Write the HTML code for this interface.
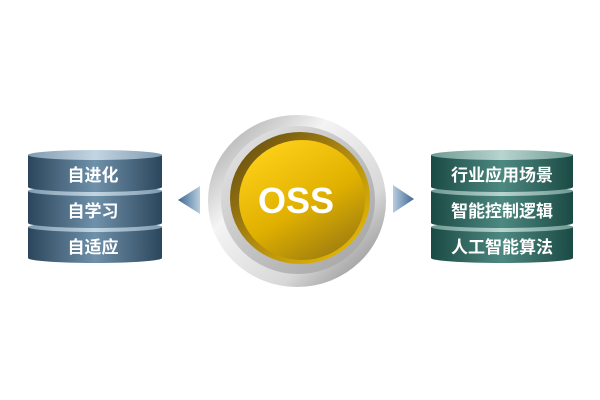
<!DOCTYPE html>
<html><head><meta charset="utf-8"><style>body{margin:0;background:#fff}svg{display:block}</style></head><body>
<svg width="600" height="400" viewBox="0 0 600 400" xmlns="http://www.w3.org/2000/svg" font-family="'Liberation Sans','Noto Sans CJK SC',sans-serif">
<defs>
<linearGradient id="bl" x1="0" x2="1"><stop offset="0" stop-color="#2b465c"/><stop offset="0.5" stop-color="#6f91aa"/><stop offset="1" stop-color="#2b465c"/></linearGradient>
<linearGradient id="tl" x1="0" x2="1"><stop offset="0" stop-color="#7f9bb0"/><stop offset="0.5" stop-color="#c3d5e2"/><stop offset="1" stop-color="#7f9bb0"/></linearGradient>
<linearGradient id="br" x1="0" x2="1"><stop offset="0" stop-color="#1b4a44"/><stop offset="0.5" stop-color="#4d8981"/><stop offset="1" stop-color="#1b4a44"/></linearGradient>
<linearGradient id="tr" x1="0" x2="1"><stop offset="0" stop-color="#6f9a94"/><stop offset="0.5" stop-color="#b8d4cf"/><stop offset="1" stop-color="#6f9a94"/></linearGradient>
<linearGradient id="ring" x1="0" y1="0" x2="1" y2="1"><stop offset="0" stop-color="#9a9a9a"/><stop offset="0.35" stop-color="#f4f4f4"/><stop offset="0.7" stop-color="#d8d8d8"/><stop offset="1" stop-color="#7a7a7a"/></linearGradient>
<linearGradient id="ring2" x1="0" y1="0" x2="1" y2="1"><stop offset="0" stop-color="#e8e8e8"/><stop offset="1" stop-color="#a0a0a0"/></linearGradient>
<linearGradient id="gold" x1="0.2" y1="0" x2="0.8" y2="1"><stop offset="0" stop-color="#ffd21a"/><stop offset="0.55" stop-color="#e0b000"/><stop offset="1" stop-color="#9a7a10"/></linearGradient>
<linearGradient id="goldrim" x1="0" y1="0" x2="1" y2="1"><stop offset="0" stop-color="#5a4410"/><stop offset="0.5" stop-color="#b08a10"/><stop offset="1" stop-color="#f0c400"/></linearGradient>
<linearGradient id="al" x1="0" x2="1"><stop offset="0" stop-color="#3e6890"/><stop offset="1" stop-color="#b8cde0"/></linearGradient>
<linearGradient id="ar" x1="0" x2="1"><stop offset="0" stop-color="#b8cde0"/><stop offset="1" stop-color="#3e6890"/></linearGradient>
</defs>
<g>
<path d="M28 227 v31 a67 5 0 0 0 134 0 v-31 z" fill="url(#bl)"/><ellipse cx="95" cy="227" rx="67" ry="5" fill="url(#tl)"/>
<path d="M28 191 v32 a67 5 0 0 0 134 0 v-32 z" fill="url(#bl)"/><ellipse cx="95" cy="191" rx="67" ry="5" fill="url(#tl)"/>
<path d="M28 155 v32 a67 5 0 0 0 134 0 v-32 z" fill="url(#bl)"/><ellipse cx="95" cy="155" rx="67" ry="5" fill="url(#tl)"/>
<g fill="#fff" font-size="17" font-weight="bold" text-anchor="middle"><text x="93" y="181">自进化</text><text x="93" y="217">自学习</text><text x="93" y="253">自适应</text></g>
</g>
<g>
<path d="M431 227 v31 a71 5 0 0 0 142 0 v-31 z" fill="url(#br)"/><ellipse cx="502" cy="227" rx="71" ry="5" fill="url(#tr)"/>
<path d="M431 191 v32 a71 5 0 0 0 142 0 v-32 z" fill="url(#br)"/><ellipse cx="502" cy="191" rx="71" ry="5" fill="url(#tr)"/>
<path d="M431 155 v32 a71 5 0 0 0 142 0 v-32 z" fill="url(#br)"/><ellipse cx="502" cy="155" rx="71" ry="5" fill="url(#tr)"/>
<g fill="#fff" font-size="17" font-weight="bold" text-anchor="middle"><text x="502" y="181">行业应用场景</text><text x="502" y="217">智能控制逻辑</text><text x="502" y="253">人工智能算法</text></g>
</g>
<polygon points="178,200 200,186 200,214" fill="url(#al)"/>
<polygon points="414,199 393,185 393,213" fill="url(#ar)"/>
<ellipse cx="297" cy="201" rx="89" ry="86" fill="url(#ring)"/>
<ellipse cx="298" cy="200" rx="77" ry="74" fill="url(#ring2)"/>
<ellipse cx="300" cy="198" rx="70" ry="66" fill="url(#goldrim)"/>
<ellipse cx="302" cy="200" rx="63" ry="60" fill="url(#gold)"/>
<text x="296" y="213" fill="#fff" font-size="36" font-weight="bold" text-anchor="middle">OSS</text>
</svg>
</body></html>
